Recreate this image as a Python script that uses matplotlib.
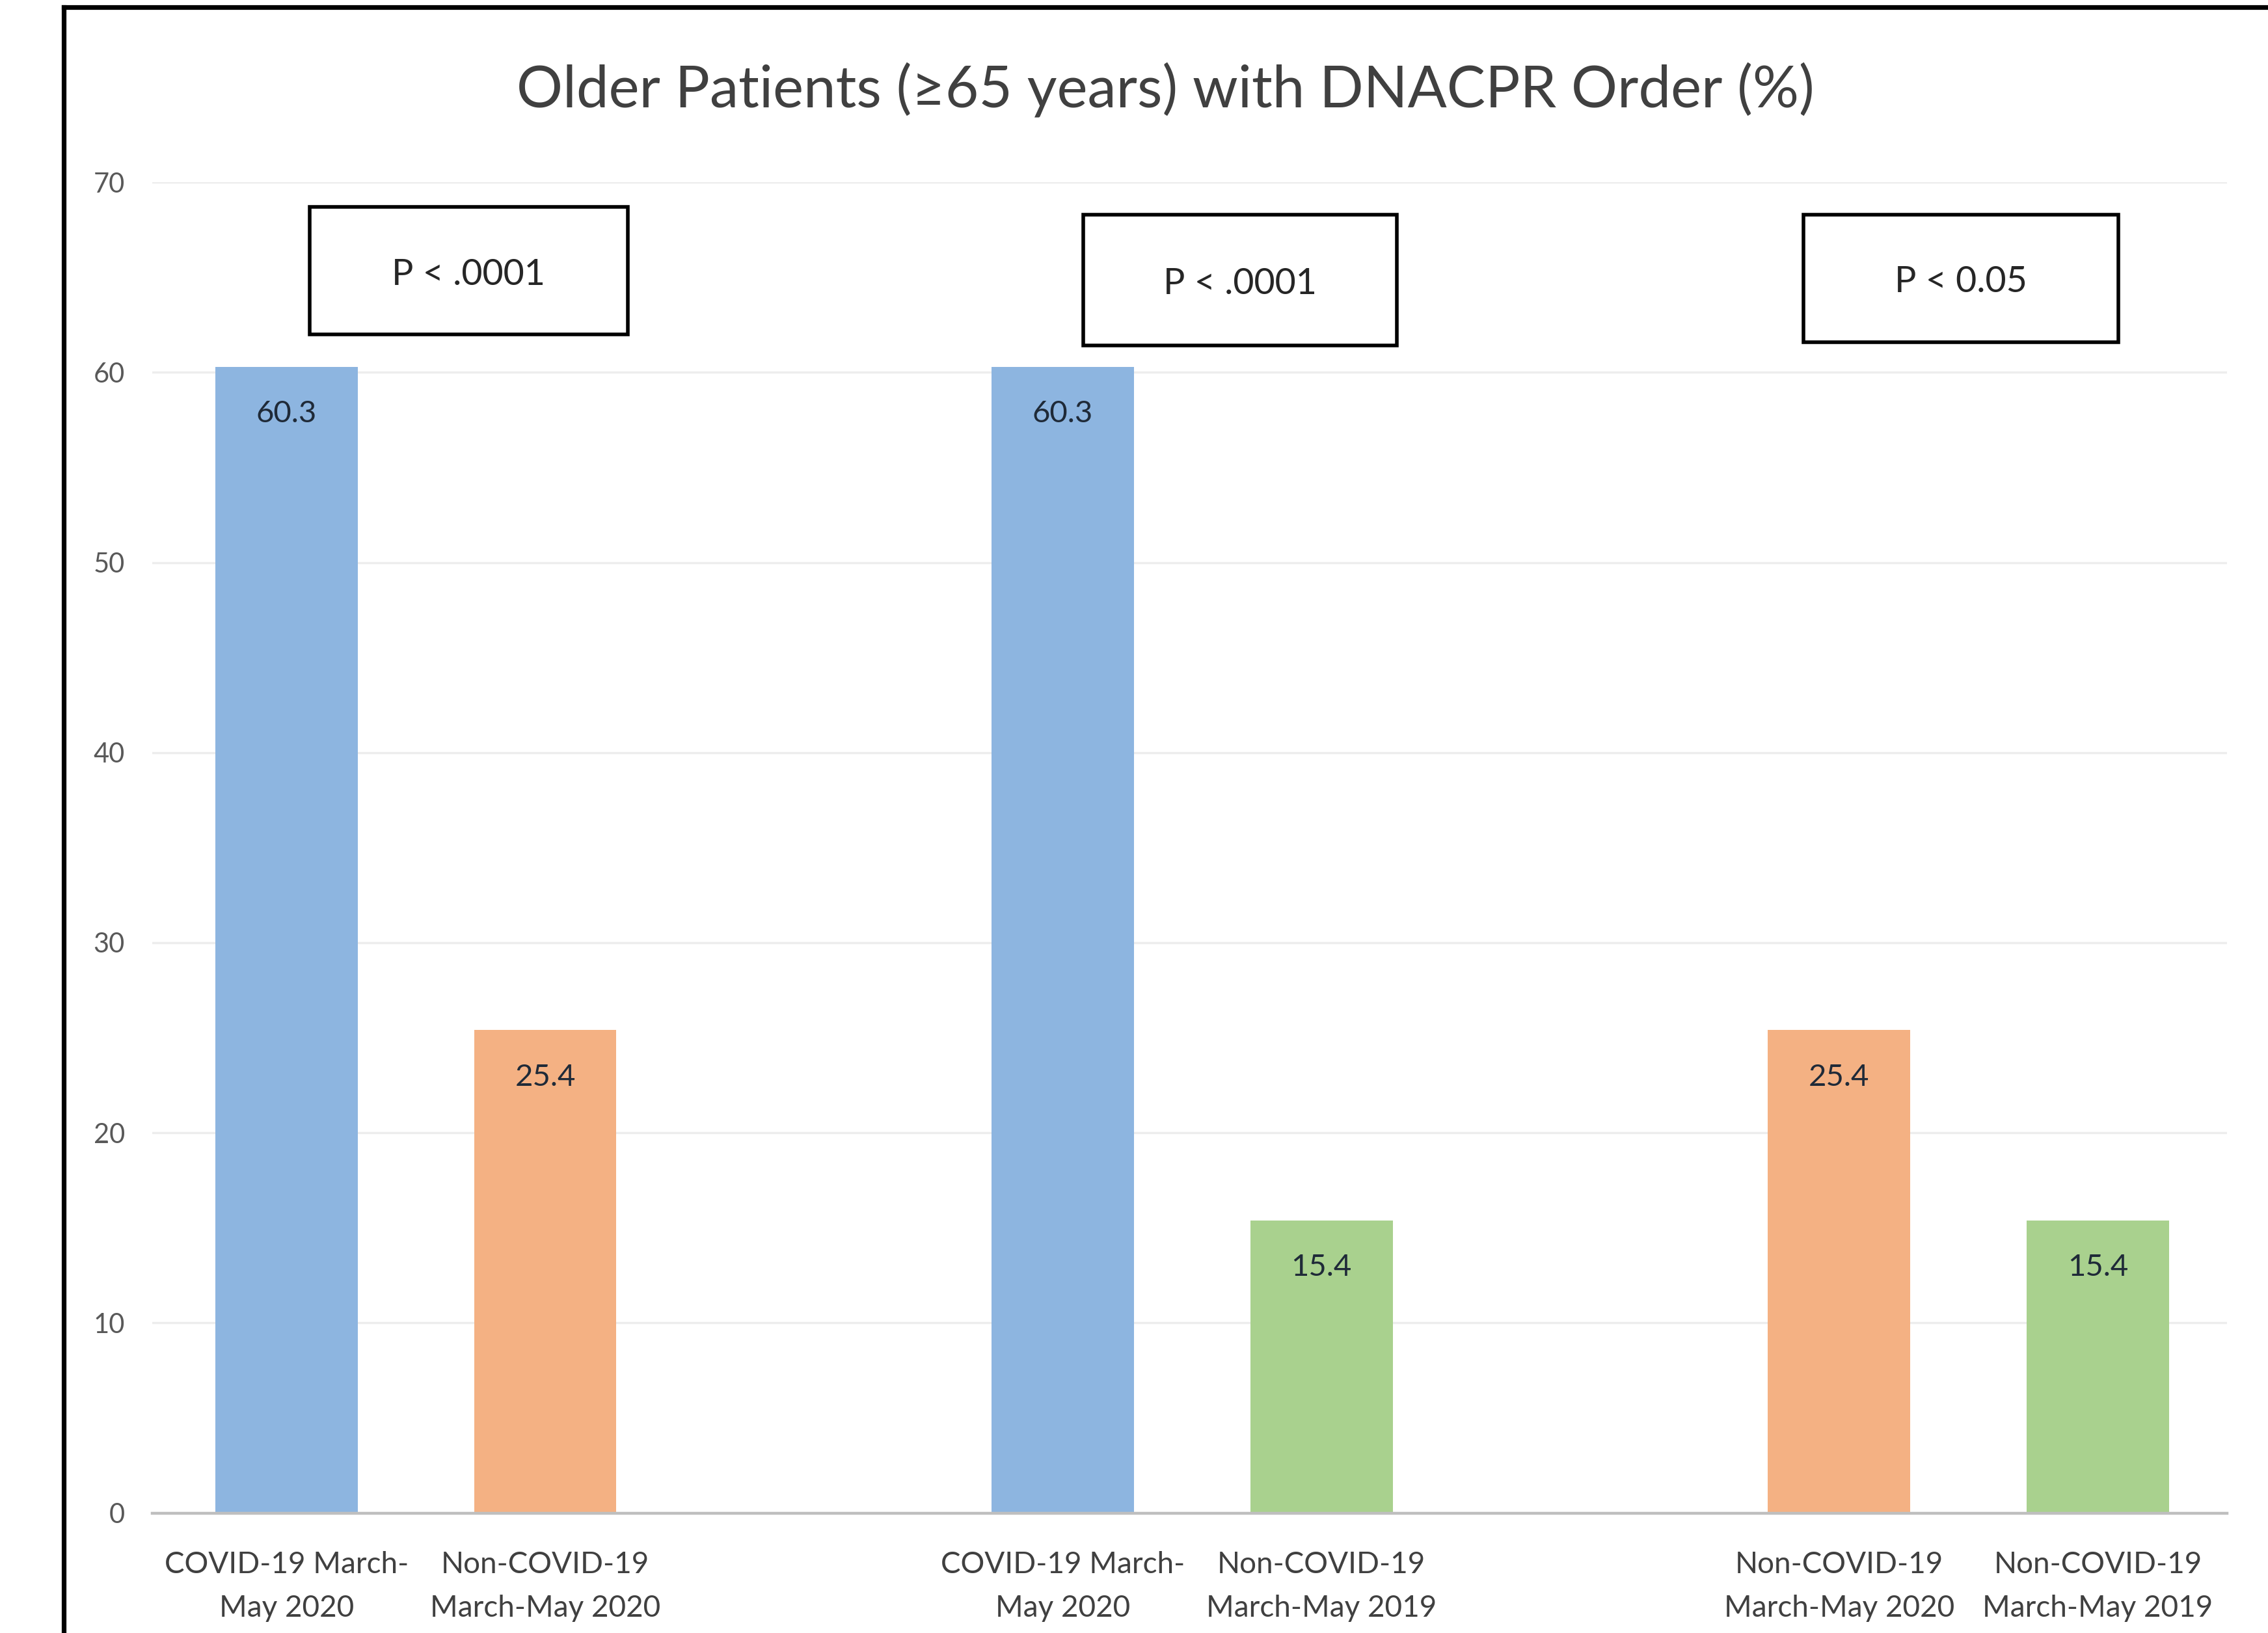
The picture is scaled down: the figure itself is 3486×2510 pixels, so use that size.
import matplotlib
matplotlib.use("Agg")
import matplotlib.pyplot as plt
from matplotlib.patches import Rectangle
from matplotlib.lines import Line2D

plt.rcParams['font.family'] = ['Lato', 'DejaVu Sans']

# ---- data ----
categories = ["COVID-19 March-\nMay 2020", "Non-COVID-19\nMarch-May 2020",
              "COVID-19 March-\nMay 2020", "Non-COVID-19\nMarch-May 2019",
              "Non-COVID-19\nMarch-May 2020", "Non-COVID-19\nMarch-May 2019"]
values = [60.3, 25.4, 60.3, 15.4, 25.4, 15.4]
positions = [0, 1, 3, 4, 6, 7]
colors = ["#8DB5E0", "#F4B183", "#8DB5E0", "#A9D18E", "#F4B183", "#A9D18E"]
p_labels = ["P < .0001", "P < .0001", "P < 0.05"]
title = "Older Patients (\u226565 years) with DNACPR Order (%)"
yticks = [0, 10, 20, 30, 40, 50, 60, 70]

# ---- layout (axes-fraction boxes for p-value annotations: x0, x1, y0, y1) ----
p_boxes = [(0.0760, 0.2293, 0.8857, 0.9814),
           (0.4488, 0.6000, 0.8771, 0.9757),
           (0.7958, 0.9477, 0.8800, 0.9757)]

W, H, DPI = 3486, 2510, 200
fig = plt.figure(figsize=(W / DPI, H / DPI), dpi=DPI)
fig.patch.set_facecolor("white")

ax = fig.add_axes([0.067, 0.0735, 0.915, 0.8149])
ax.bar(positions, values, width=0.55, color=colors, zorder=3)
ax.set_xlim(-0.52, 7.5)
ax.set_ylim(0, 70)
ax.set_yticks(yticks)
ax.set_yticklabels([str(t) for t in yticks])
ax.set_xticks(positions)
ax.set_xticklabels(categories, linespacing=1.75)

for s in ["top", "right", "left"]:
    ax.spines[s].set_visible(False)
ax.spines["bottom"].set_color("#bfbfbf")
ax.spines["bottom"].set_linewidth(1.6)
ax.spines["bottom"].set_zorder(4)

ax.yaxis.grid(True, color="#ededed", linewidth=1.2, zorder=0)
ax.set_axisbelow(True)
ax.tick_params(axis="y", length=0, pad=15, labelsize=15, labelcolor="#595959")
ax.tick_params(axis="x", length=0, pad=21, labelsize=16.5, labelcolor="#404040")

for x, v in zip(positions, values):
    ax.annotate(f"{v}", xy=(x, v), xytext=(0, -26), textcoords="offset points",
                ha="center", va="center", fontsize=17, color="#1f2a38", zorder=5)

for (x0, x1, y0, y1), lab in zip(p_boxes, p_labels):
    ax.add_patch(Rectangle((x0, y0), x1 - x0, y1 - y0, transform=ax.transAxes,
                           fill=True, facecolor="white", edgecolor="black",
                           linewidth=2.0, zorder=6, clip_on=False))
    ax.text((x0 + x1) / 2, (y0 + y1) / 2 - 0.003, lab, transform=ax.transAxes,
            ha="center", va="center", fontsize=20, color="#262626", zorder=7)

fig.text(0.514, 0.945, title, ha="center", va="center", fontsize=32,
         color="#404040")

# outer black frame (left and top visible)
fig.add_artist(Line2D([0.028, 0.028], [0.0, 0.9956], transform=fig.transFigure,
                      color="black", linewidth=2.6))
fig.add_artist(Line2D([0.028, 1.0], [0.9956, 0.9956], transform=fig.transFigure,
                      color="black", linewidth=2.6))

fig.savefig("out.png", dpi=DPI, facecolor="white")
